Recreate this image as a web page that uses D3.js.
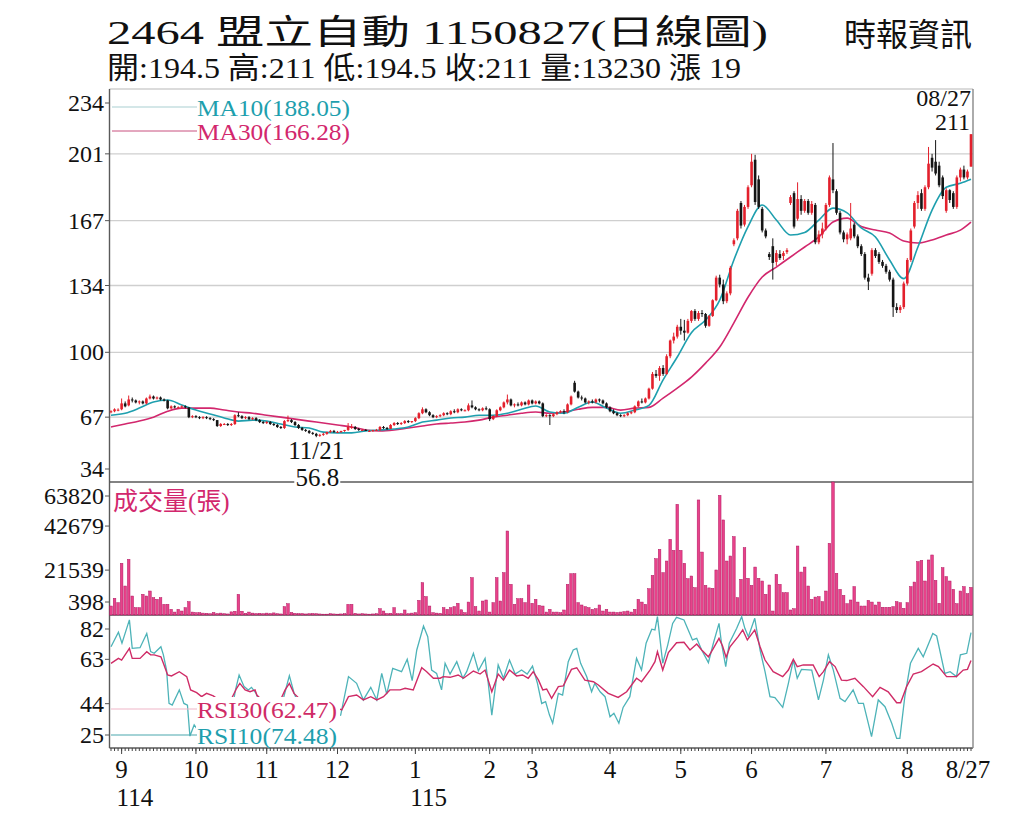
<!DOCTYPE html>
<html><head><meta charset="utf-8">
<script src="https://cdn.jsdelivr.net/npm/d3@7"></script>
<style>body{margin:0;background:#fff}svg{display:block}</style>
</head><body>
<svg id="c" width="1024" height="834"></svg>
<script>
// ---------------- DATA ----------------
const openP=[69.5,70,70.5,71,74,73,76,75.5,74.5,75,74,76.5,77.5,76.5,77,76,75.5,71.5,72.5,72,72,72.5,72,67,67.5,67,66.5,67,66.5,66,65.5,62.5,63.5,63.5,63,63.5,68,67.5,66.5,67,66,66.5,65.5,64.5,64,64.5,63.5,63,62,61.5,65,65.5,64.5,63,61.5,60.5,60,59,58.5,57.5,58,58.5,59.5,60,59.5,59.5,60,60.5,62,62,61,60.5,60.5,60,60,60.5,60.5,62,61.5,61,63,64,63.5,64,65,64.5,65,66.5,69,71,69.5,68,67,67.5,68,69,68.5,70,69.5,71,70.5,70.5,73,72,71,70.5,71.5,71,66,67.5,70.5,72,74.5,76,73,73.5,73,74.5,73.5,75.5,74,75,74,67.5,68,67.5,68.5,69.5,70,69.5,73.5,84.5,80,77,76.5,74.5,75,74.5,76,75.5,74,72,70,69,68,67.5,68,69,69.5,72.5,75,74.5,76.5,81.5,89,88,92,89,98,106,108,113,111,110,116,121,117,120,119.5,113.5,118.5,126.5,138,134.5,126,130,155,158,176,165,174,185,198,188,173,162,150,154,146,150,149,151,176,181,168,178,172,177,171,175,156,160,163,175,188,182,171,161,157.5,158,165,159,154,150,138,140,152,150,146,144,141,137,123,121.5,123,135,147,164,176,181,173,184,199,197,195,189,172,182.5,181,174,189,193,189,194.5];
const highP=[70.5,71.5,71.5,76.5,75,78,77,76,75.5,75.5,77,78.5,78,77.5,77.5,76.5,75.8,73,73,72.5,73,73,72,68,68,67.5,67.5,67.5,67,66.5,65.5,64,64,64,64,68.5,69.5,68,67.5,67.5,67,67,66,65,65,65,64,63.5,62.5,65.5,67.8,66,65,63.5,62,61,60.5,59.5,59,58.5,59,59.5,60.5,60.5,60,60,60.5,64,63.5,62.5,61.5,61,61,60.5,60.5,61,62.5,62.5,62,63.5,64.5,64.5,64.5,65.5,65.5,65,67,69.5,72,71.5,70,68.5,68,68.5,69.5,69.5,70.5,71,71.5,71.5,71,74,75.5,72.5,71.5,72,72.5,71.5,68,71,72.5,75,78.5,76.5,74,74.5,75,75,76,76,75.5,75.5,74.5,68.5,68.5,69,70,70.5,71,74,78,85.5,80.5,78,77,75.5,76,76.5,76.5,76,74.5,72.5,71,69.5,68.5,68.5,69.5,70,73,75.5,76.5,77,82,90,91,93,93.5,99,106.5,110,114,117,116.5,117,121.5,122,121,121.5,120,119,127,139,139.5,137,131,144,158,173,177,175,185,201,200.5,190,174,163,151,158,152,152,151.5,153,180,182,186.5,180,178,178,177,176,162,166,176,190,206.5,183,172,162,161,176,166,160,155,151,140,153,153,151,147,145,142,138,125,124,136,148,163,177,182,183,185,204.5,201,208,197,190,183.5,183,182,190,194,195,193,211];
const lowP=[69,69.5,70,70.5,72,72.5,74.5,74,73.5,73.5,73.5,76,76,76,75.5,75,71,71,71.5,71.5,71.5,71.5,66.5,66.5,66.5,66,66,66,65.5,65,62,62,63,62.5,62.5,63,67,66,66,65.5,65.5,65,64,63.5,63.5,63,62.5,61.5,61,61,64.5,64,62.5,61,60,59.5,58.5,58,56.8,57,57.5,58,59,59,59,59,59.5,60,61,60.5,60,60,60,59.5,59.5,60,60,61,60.5,61,62.5,63,63,63.5,64,64,64.5,66,68.5,69,67.5,66.5,66.5,67,67.5,68,68,69,69,70,70,70,71.5,70.5,70,70,70.5,65,65.5,67,70,71.5,73.5,72.5,72,72.5,72.5,73,73,73.5,73.5,73.5,67,67,63,67,68,69,68.5,69,73,79.5,76.5,75.5,74,73.5,74,74,74.5,73.5,71.5,69.5,68.5,67.5,67,67,67.5,68.5,69,72,74,74,76,81,87,85.5,88,88.5,97,104.5,107,109,106,109.5,115,116,116,118,112.5,113,118,126,133,124.5,125,129,154,157,163,164,173,184,175,173,161,158,147,137,144,147,147,150,175,163,167,170,171,170,170,155,155,158,162,174,181,170,160,156,155,157,158,153,149,137,131.7,139,148,145,143,140,136,118,120,120,122,134,146,163,173,172,172,183,192,190,184,178,171,176,173,173,187,188,188,194.5];
const closeP=[70,71,70.8,74,72.5,76,75.5,74.5,75,74,76.5,77.5,76.5,77,76,75.5,71.5,72.5,72,72,72.5,72,67,67.5,67,66.5,67,66.5,66,65.5,62.5,63.5,63.5,63,63.5,68,67.5,66.5,67,66,66.5,65.5,64.5,64,64.5,63.5,63,62,61.5,65,65.5,64.5,63,61.5,60.5,60,59,58.5,57.5,58,58.5,59.5,60,59.5,59.5,60,60.5,62,62,61,60.5,60.5,60,60,60.5,60.5,62,61.5,61,63,64,63.5,64,65,64.5,65,66.5,69,71,69.5,68,67,67.5,68,69,68.5,70,69.5,71,70.5,70.5,73,72,71,70.5,71.5,71,66,67.5,70.5,72,74.5,76,73,73.5,73,74.5,73.5,75.5,74,75,74,67.5,68,67.5,68.5,69.5,70,69.5,73.5,77.5,80,77,76.5,74.5,75,74.5,76,75.5,74,72,70,69,68,67.5,68,69,69.5,72.5,75,74.5,76.5,81.5,89,88,92,89,98,106,108,113,111,110,116,121,117,120,119.5,113.5,118.5,126.5,138,134.5,126,130,143,157,172,164.5,174,184,197,176.5,174,162,159,148.5,145.5,150.5,148,150.5,152,179,164,178,172,177,171,175.5,156,160,163,175,189,182.5,171,161,157.5,160,163,159,154,150,138,136,152,149,146,144,141,137,123,121.5,123,135,147,162,176,180,173,184,196,194,191,185,179.5,182.5,177.5,174,189,193,189,192,211];
const volume=[4300,8000,5900,24800,13900,26700,9100,3500,3500,9900,9100,11500,8300,7500,8300,5100,5100,2700,1400,2700,1900,3500,6400,1400,1100,1100,900,800,600,1200,700,900,600,500,1500,1800,9900,1800,800,1400,900,700,800,600,900,700,1000,600,500,4000,5400,1200,800,600,700,500,600,700,600,500,400,400,600,500,400,500,600,5100,5100,800,500,600,500,400,500,600,3000,1900,700,800,3500,600,700,2400,600,900,1100,7000,15500,8800,4300,1100,900,800,3500,2700,3500,4000,5600,2500,1100,6200,17900,4000,1900,6700,7200,1400,5900,17900,6700,20300,40300,14700,5100,7800,7800,5900,14400,5600,7500,4600,4300,1400,2700,1400,1400,1100,2400,14700,19800,19800,5900,4800,4000,3500,2700,3000,4800,1900,2700,1400,1400,1200,1400,1600,1900,1400,2700,7500,6200,5100,12600,19000,27000,31500,20300,25900,36300,31000,53100,31000,24800,17400,18700,13100,55200,30200,14200,13000,12800,21600,57400,45600,25900,28300,37600,8300,17100,32300,17600,14200,23000,17600,16300,9900,14400,1900,19500,14700,10700,10700,2400,3000,33100,20600,23000,13900,7500,8600,8800,6400,11500,34400,63820,20000,12300,9400,5400,7200,13600,6200,4300,4300,7000,6200,4800,6200,3700,3700,3700,4000,6400,5900,3200,5900,13600,15800,25600,26200,16300,26400,28800,16600,5600,22700,18400,16300,12300,5400,11500,13600,10200,13230];
const maDay=[0,4,8,12,16,20,24,28,32,36,40,44,48,52,56,60,64,68,72,76,80,84,88,92,96,100,104,108,112,116,120,124,128,132,136,140,144,148,152,156,160,164,168,172,176,180,184,188,192,196,200,204,208,212,216,220,224,228,232,236,240,243];
const ma10=[68,69,71.6,74.7,75.7,73.2,70.6,68.6,66.6,65,65.5,65,63.5,62,61.5,59.4,59,59,60,60.5,61,62,64.5,65.5,66.6,67,68,68,69,71,72.7,69.6,69,72,74.7,71.6,69,70.6,73,86,97.6,110,116.4,126.6,147,164,175,167.3,159.7,161,167.3,173.4,171,163.3,158.7,147,137.5,153.6,172.4,184,186,188.05];
const ma30=[62,63.5,65,67,70,71.6,71.6,71.6,70.6,69.6,69,68,67,66,65,64,63,62,60.5,60,60.5,61.5,62.5,63.5,64,64.5,65.5,67,68,69,69.6,69,69.6,71,72,72,70.6,71.6,72,76.7,81.8,87.4,94.5,102.7,115,128,138.3,143.4,148.5,153.6,158.7,166.3,168.3,164,162.2,160.7,156.6,155.6,157.2,159.7,162.2,166.28];
const rsi10Day=[0,2.1,3.1,5.2,6,8.2,10.1,11.2,12.2,14.1,14.8,15.7,16.4,17.3,19.3,20.6,21.6,22.3,23.5,24.2,26,29,32,34,35.2,36.2,37.6,38.8,39.7,41,43,46,48,49.2,50.4,51.7,54,57,60,62.8,64.9,67.1,69.4,71.3,73.4,75.1,76.5,77.9,79.6,82.1,83.7,85.1,86.4,88.3,89.5,90.6,92,93.4,94.4,95.8,97.7,99.4,100.5,102.4,103.8,105.7,106.6,107.6,109.4,110.9,112.6,114.2,116,117.6,119.1,120.5,121.7,122.8,123.9,124.8,126.4,127.6,129.2,130.6,131.6,132.7,134.4,135.8,136.7,138.2,139.6,141,142.1,143.5,144.7,146.6,148.5,149.9,151.2,152.8,153.7,154.4,155.9,157.3,158.7,159.8,161.9,163.1,164.3,165.5,166.9,168.8,170.2,171.8,172.5,173.7,174.7,176.8,178.2,179.1,180.1,181.9,183.4,184.8,186.2,187.6,189.8,191.4,192.8,193.9,195.1,198,199.9,201.3,202.7,204.1,206,207.4,209.7,211.2,212.6,214.9,216.8,218.7,220.6,222,222.9,224.3,225.9,228.1,229.5,232.2,233.3,235.6,237.1,238.9,240,241.8,243];
const rsi10=[68.4,74.6,69.9,79.9,67.7,68,74.1,66.3,65.6,68.4,64.9,58.4,44.1,43.4,49.9,44.1,43.4,30.1,34.9,33.4,35,38,33,40,50,56.3,51.3,49.9,51,48.4,40,36,42,49.1,56,48.7,40,32,36,37.7,39.1,55.6,52.7,45.6,51,45.6,57,48.1,59.1,57.7,63,53.9,67,77.3,72.7,58.4,57,49.9,61.3,56.7,62,54.9,57.7,65.6,58.1,63.4,52.7,39.1,60.6,54.9,62.7,56.7,58.4,56.7,60.1,52.7,44.1,44.9,39.1,35.6,48.4,47.7,62,67,67.7,61.3,55.6,49.1,52.7,49.1,47,38.4,39.9,35.6,42.4,47,63.4,58.4,69.9,75.9,75.6,81.3,61.3,69.1,78.4,81,79.9,75.6,71.3,72,67,61.6,69.9,78.4,69.9,59.9,69.9,76.3,81.3,76.3,72.7,80.6,67,57.7,47,46.6,42.4,52.7,62.7,54.9,58.7,58.4,45.6,54.1,64.9,58.4,46.3,44.9,49.9,44.1,44.1,29.9,45.6,42.7,35.6,29.1,29.1,47,61.3,67.7,64.1,74.1,73,57,57.7,55.6,64.9,65.6,74.48];
const rsi30Day=[0,2.1,3,5.2,6,8.2,10.1,11.2,12.2,14.1,14.8,16,17.1,19.3,21.4,22.5,24.2,25.6,27,28.9,31,34,35.5,36.4,37.9,39.3,40.7,41.2,43,46,48,49.2,50.4,51.7,54,57,60,62.8,65.2,67.1,69.4,71.3,73.4,75.1,77,78.8,81.7,83.1,85.4,87.8,89.2,91.1,93,93.9,95.8,98.1,99.6,102.4,104.3,105.7,107.6,109.4,110.9,112.6,114.6,116.3,117.9,119.3,120.8,122,123.1,124.5,126.4,127.8,130.1,131.6,133.9,136.3,137.7,140.5,143.3,145.7,148.5,149.9,152.3,153.7,154.4,155.9,157.5,159.8,161.9,163.6,165.5,166.9,168.8,170.2,171.8,172.8,173.8,174.9,177.2,178.5,179.8,181.9,183.4,184.8,187.1,189.8,191.4,192.8,193.9,195.6,198.4,200.1,201.3,203,204.6,206.4,207.9,210.2,212.6,215.2,217.3,219.6,222,223.1,224.8,226.7,229,232.3,233.8,236.1,238.9,240.8,242,243];
const rsi30=[61.3,63.4,62.7,67.7,63.4,63.4,66.3,64.9,64.9,64.1,61.3,56.3,55.9,57.7,55.6,49.9,48.7,47,48.4,47.3,45,46,50.6,52.7,49.9,49.1,49.9,47.7,45,44,46,49.9,52.7,48.4,45,41,42,42.7,41.3,47,47.7,45.6,47,45.6,47,49.9,49.9,50.6,49.9,59.4,57.7,54.9,54.9,55.6,55.3,56.3,54.9,58,56.7,58.4,49.1,56.7,54.1,58.4,55.9,56.3,54.9,57.7,54.1,49.9,50.3,46.3,51.3,51.6,58.7,59.4,54.1,53.4,52,48.4,46.7,49.1,54.9,53.4,58.4,62,66.3,58.4,65.9,70.1,70.3,67,69.6,67,64.1,67.7,72,68.7,63.9,68.4,72.7,75.6,71.3,75.6,68.4,62.7,57.7,55.6,58.4,63,59.9,60.6,60.6,55.6,57.7,62,59.9,54.1,53.9,54.9,51.3,47,51,49.1,44.4,44.4,51.3,56.7,57.7,61,59.9,55.6,55.6,58.4,58.7,62.47];
const priceTicks=[234,201,167,134,100,67,34];
const volTicks=[63820,42679,21539,398];
const rsiTicks=[82,63,44,25];
const monthLabels=["9","10","11","12","1","2","3","4","5","6","7","8"];
const monthStart=[3,24,44,64,86,107,119,141,161,181,202,225];
const yearLabels=["114","115"];
const yearStart=[3,86];
const lastDate="8/27";
const titleText="2464  盟立自動 1150827(日線圖)";
const infoText="開:194.5 高:211 低:194.5 收:211 量:13230 漲 19";
const sourceText="時報資訊";
const volTitle="成交量(張)";
const lowNote=["11/21","56.8"], lowDay=58;
const lastNote=["08/27","211"];
const maNames=["MA10(188.05)","MA30(166.28)"];
const rsiNames=["RSI30(62.47)","RSI10(74.48)"];

// ---------------- CHART ----------------
const svg=d3.select("#c");
const FONT="'Liberation Serif','Noto Sans CJK TC',serif";
const L=109.5,R=973,T=89,PB=482,VB=615,RB=748;
const n=closeP.length;
const x=d3.scaleLinear().domain([0,n-1]).range([111,971]);
const yP=d3.scaleLinear().domain([34,234]).range([PB,T]);
const yV=d3.scaleLinear().domain([0,63820]).range([VB,PB]);
const yR=d3.scaleLinear().domain([25,82]).range([RB,VB]);
const C_RED="#e3202c",C_BLK="#151515",C_TEAL="#1e9fae",C_MAG="#d2276d",C_RT="#4db3b8",C_RM="#cf2b66";

// header
svg.append("text").attr("x",107).attr("y",44).attr("font-family",FONT).attr("font-size",34)
  .attr("textLength",661).attr("lengthAdjust","spacingAndGlyphs").attr("fill","#111").text(titleText);
svg.append("text").attr("x",107).attr("y",78).attr("font-family",FONT).attr("font-size",30)
  .attr("textLength",634).attr("lengthAdjust","spacingAndGlyphs").attr("fill","#111").text(infoText);
svg.append("text").attr("x",972).attr("y",46).attr("text-anchor","end").attr("font-family",FONT).attr("font-size",32)
  .attr("fill","#111").text(sourceText);

// grid
svg.append("g").selectAll("line").data(priceTicks.filter(v=>v>34)).join("line")
  .attr("x1",L).attr("x2",R).attr("y1",d=>yP(d)).attr("y2",d=>yP(d))
  .attr("stroke","#cfcfcf").attr("stroke-width",1.3);

// frames
const frame=svg.append("g").attr("stroke","#5a5a5a").attr("stroke-width",1.4);
[PB,VB,RB].forEach(y=>frame.append("line").attr("x1",L).attr("x2",R).attr("y1",y).attr("y2",y));
frame.append("line").attr("x1",L).attr("x2",L).attr("y1",T).attr("y2",RB);
frame.append("line").attr("x1",R).attr("x2",R).attr("y1",T).attr("y2",RB).attr("stroke","#888");

// y labels
function yLabels(ticks,scale,top,bot){
  const g=svg.append("g").attr("font-family",FONT).attr("font-size",24).attr("fill","#111");
  ticks.forEach(v=>{
    const cy=Math.max(top+14,Math.min(bot-13,scale(v)));
    g.append("text").attr("x",104).attr("y",cy+8).attr("text-anchor","end").text(v);
    svg.append("line").attr("x1",105).attr("x2",L).attr("y1",cy).attr("y2",cy).attr("stroke","#555");
  });
}
yLabels(priceTicks,yP,T,PB);
yLabels(volTicks,yV,PB,VB);
yLabels(rsiTicks,yR,VB,RB);

// MA lines
const maLine=arr=>d3.line().x((d,i)=>x(maDay[i])).y(d=>yP(d)).curve(d3.curveMonotoneX)(arr);
svg.append("path").attr("d",maLine(ma30)).attr("fill","none").attr("stroke",C_MAG).attr("stroke-width",1.6);
svg.append("path").attr("d",maLine(ma10)).attr("fill","none").attr("stroke",C_TEAL).attr("stroke-width",1.6);

// candles
const cg=svg.append("g");
d3.range(n).forEach(i=>{
  const up=closeP[i]>=openP[i], col=up?C_RED:C_BLK;
  cg.append("line").attr("x1",x(i)).attr("x2",x(i)).attr("y1",yP(highP[i])).attr("y2",yP(lowP[i]))
    .attr("stroke",col).attr("stroke-width",1);
  const yt=yP(Math.max(openP[i],closeP[i])), yb=yP(Math.min(openP[i],closeP[i]));
  cg.append("rect").attr("x",x(i)-1.3).attr("width",2.6).attr("y",yt).attr("height",Math.max(1,yb-yt)).attr("fill",col);
});

// volume
svg.append("g").selectAll("rect").data(volume).join("rect")
  .attr("x",(d,i)=>x(i)-1.3).attr("width",2.6).attr("y",d=>yV(d)).attr("height",d=>VB-yV(d))
  .attr("fill","#e8428a").attr("stroke","#b01660").attr("stroke-width",0.5);

// RSI
const rl=(days,vals)=>d3.line().x((d,i)=>x(days[i])).y(d=>yR(d))(vals);
svg.append("path").attr("d",rl(rsi10Day,rsi10)).attr("fill","none").attr("stroke",C_RT).attr("stroke-width",1.3);
svg.append("path").attr("d",rl(rsi30Day,rsi30)).attr("fill","none").attr("stroke",C_RM).attr("stroke-width",1.4);

// legends
svg.append("rect").attr("x",197).attr("y",95).attr("width",157).attr("height",50).attr("fill","#fff");
svg.append("line").attr("x1",112).attr("x2",197).attr("y1",107).attr("y2",107).attr("stroke","#a9cfd2").attr("stroke-width",1.2);
svg.append("line").attr("x1",112).attr("x2",197).attr("y1",131).attr("y2",131).attr("stroke","#c8507e").attr("stroke-width",1);
svg.append("text").attr("x",197).attr("y",116).attr("font-family",FONT).attr("font-size",24).attr("fill",C_TEAL)
  .attr("textLength",153).attr("lengthAdjust","spacingAndGlyphs").text(maNames[0]);
svg.append("text").attr("x",197).attr("y",140).attr("font-family",FONT).attr("font-size",24).attr("fill",C_MAG)
  .attr("textLength",153).attr("lengthAdjust","spacingAndGlyphs").text(maNames[1]);

svg.append("rect").attr("x",196).attr("y",697).attr("width",144).attr("height",50).attr("fill","#fff");
svg.append("line").attr("x1",111).attr("x2",197).attr("y1",709).attr("y2",709).attr("stroke","#efb6c8").attr("stroke-width",1.2);
svg.append("line").attr("x1",111).attr("x2",197).attr("y1",735).attr("y2",735).attr("stroke","#4aa7ad").attr("stroke-width",1.2);
svg.append("text").attr("x",197).attr("y",718).attr("font-family",FONT).attr("font-size",24).attr("fill",C_RM)
  .attr("textLength",140).attr("lengthAdjust","spacingAndGlyphs").text(rsiNames[0]);
svg.append("text").attr("x",197).attr("y",744).attr("font-family",FONT).attr("font-size",24).attr("fill","#1f9fae")
  .attr("textLength",140).attr("lengthAdjust","spacingAndGlyphs").text(rsiNames[1]);

svg.append("text").attr("x",113).attr("y",510).attr("font-family",FONT).attr("font-size",25).attr("fill",C_MAG).text(volTitle);

// annotations
svg.append("text").attr("x",x(lowDay)).attr("y",459).attr("text-anchor","middle").attr("font-family",FONT).attr("font-size",25).attr("fill","#111").text(lowNote[0]);
svg.append("rect").attr("x",x(lowDay)-22).attr("y",466).attr("width",46).attr("height",22).attr("fill","#fff");
svg.append("text").attr("x",x(lowDay)+1).attr("y",486).attr("text-anchor","middle").attr("font-family",FONT).attr("font-size",25).attr("fill","#111").text(lowNote[1]);
svg.append("text").attr("x",971).attr("y",106).attr("text-anchor","end").attr("font-family",FONT).attr("font-size",24).attr("fill","#111").text(lastNote[0]);
svg.append("text").attr("x",970).attr("y",130).attr("text-anchor","end").attr("font-family",FONT).attr("font-size",24).attr("fill","#111").text(lastNote[1]);

// x axis ticks
const tg=svg.append("g").attr("stroke","#444").attr("stroke-width",1);
d3.range(n).forEach(i=>tg.append("line").attr("x1",x(i)).attr("x2",x(i)).attr("y1",RB).attr("y2",RB+3));
monthStart.forEach(i=>tg.append("line").attr("x1",x(i)).attr("x2",x(i)).attr("y1",RB).attr("y2",RB+6));
const xg=svg.append("g").attr("font-family",FONT).attr("font-size",25).attr("fill","#111");
monthLabels.forEach((m,k)=>xg.append("text").attr("x",x(monthStart[k])).attr("y",778).attr("text-anchor","middle").text(m));
xg.append("text").attr("x",x(n-1)-3).attr("y",778).attr("text-anchor","middle").text(lastDate);
yearLabels.forEach((yv,k)=>xg.append("text").attr("x",x(yearStart[k])-5).attr("y",806).text(yv));
</script>
</body></html>
